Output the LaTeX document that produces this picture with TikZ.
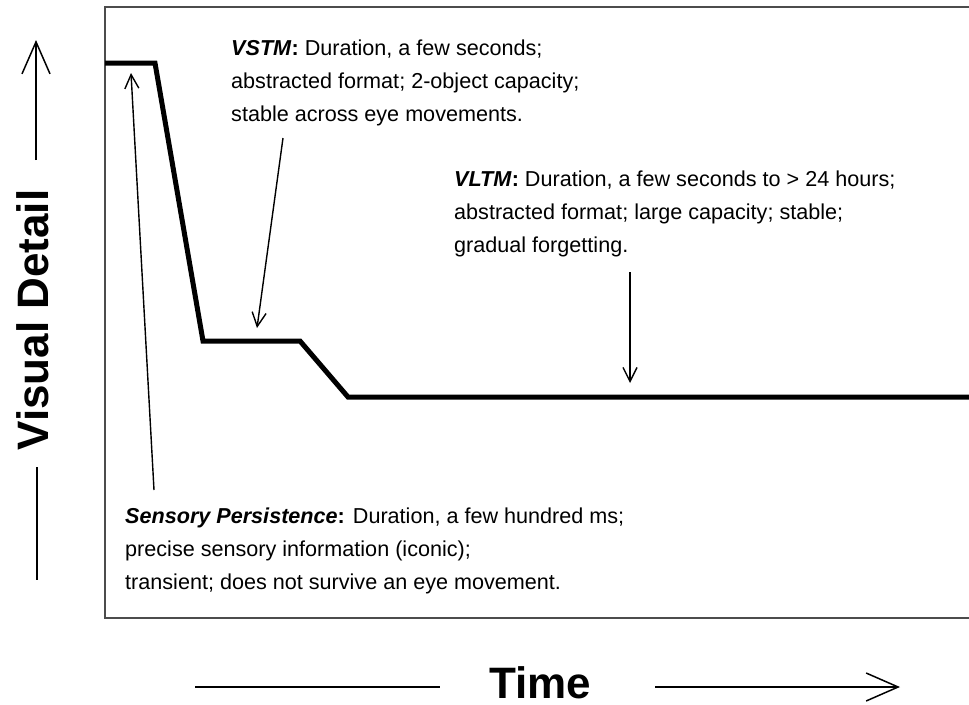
\documentclass[tikz,border=0pt]{standalone}
\usepackage{fontspec}
\setmainfont{Liberation Sans}
\usetikzlibrary{arrows.meta}
\begin{document}
\begin{tikzpicture}[x=1pt,y=-1pt,
  txt/.style={font=\fontsize{21.6}{33}\selectfont, align=left, anchor=base west, inner sep=0pt},
  bigtxt/.style={font=\fontsize{44}{50}\selectfont\bfseries, inner sep=0pt, anchor=base},
  thinarrow/.style={line width=1.4pt, -{Straight Barb[length=14pt,width=14pt,line width=1.4pt]}},
  axisline/.style={line width=1.5pt},
  axisarrow/.style={line width=1.5pt, -{Straight Barb[length=32pt,width=28pt,line width=1.5pt]}},
  boxline/.style={line width=2pt, draw=black!70},
  curve/.style={line width=5pt, line join=miter}]
\useasboundingbox (0,0) rectangle (969,704);
% frame
\coordinate (b1) at (969,7);
\coordinate (b2) at (105,7);
\coordinate (b3) at (105,618);
\coordinate (b4) at (969,618);
\draw[boxline] (b1) -- (b2) -- (b3) -- (b4);
% memory curve
\coordinate (c0) at (105,63);
\coordinate (c1) at (155,63);
\coordinate (c2) at (203,341);
\coordinate (c3) at (300,341);
\coordinate (c4) at (348,397);
\coordinate (c5) at (969,397);
\draw[curve] (c0) -- (c1) -- (c2) -- (c3) -- (c4) -- (c5);
% texts (anchor = baseline of the last line)
\node[txt] (vstm) at (231,121) {\textbf{\textit{VSTM}:} Duration, a few seconds;\\abstracted format; 2-object capacity;\\stable across eye movements.};
\node[txt] (vltm) at (454,252) {\textbf{\textit{VLTM}:} Duration, a few seconds to > 24 hours;\\abstracted format; large capacity; stable;\\gradual forgetting.};
\node[txt] (sens) at (125,589) {\textbf{\textit{Sensory Persistence}:} Duration, a few hundred ms;\\precise sensory information (iconic);\\transient; does not survive an eye movement.};
% pointer arrows
\coordinate (s0) at (154,490);
\coordinate (s1) at (131,73);
\draw[thinarrow] (s0) -- (s1);
\coordinate (v0) at (283,138);
\coordinate (v1) at (257,328);
\draw[thinarrow] (v0) -- (v1);
\coordinate (l0) at (630,272);
\coordinate (l1) at (630,383);
\draw[thinarrow] (l0) -- (l1);
% axes
\node[bigtxt, rotate=90] (vd) at (48,320) {Visual Detail};
\coordinate (ya0) at (36,160);
\coordinate (ya1) at (36,40);
\draw[axisarrow] (ya0) -- (ya1);
\coordinate (yb0) at (37,467);
\coordinate (yb1) at (37,580);
\draw[axisline] (yb0) -- (yb1);
\node[bigtxt] (time) at (540,698) {Time};
\coordinate (ta0) at (195,687);
\coordinate (ta1) at (440,687);
\draw[axisline] (ta0) -- (ta1);
\coordinate (tb0) at (655,687);
\coordinate (tb1) at (900,687);
\draw[axisarrow] (tb0) -- (tb1);
\end{tikzpicture}
\end{document}
